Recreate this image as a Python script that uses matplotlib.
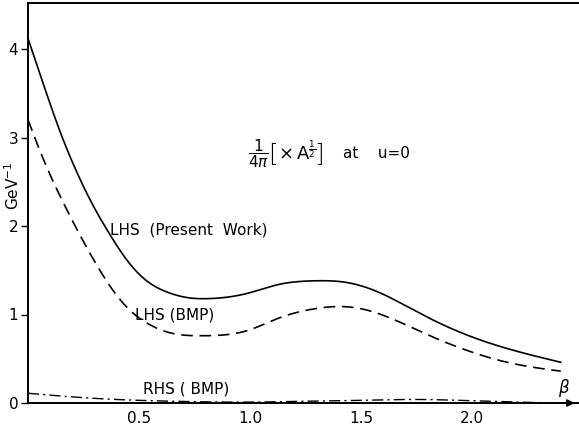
import matplotlib
matplotlib.use("Agg")
import matplotlib.pyplot as plt
import numpy as np

# values (beta, GeV^-1)
beta_present = [0.0, 0.075, 0.15, 0.225, 0.30, 0.36, 0.45, 0.54, 0.63, 0.72, 0.82, 0.99, 1.13,
                1.28, 1.44, 1.59, 1.73, 1.89, 2.04, 2.18, 2.40]
lhs_present = [4.12, 3.56, 3.03, 2.58, 2.20, 1.94, 1.60, 1.37, 1.25, 1.19, 1.18, 1.24, 1.34,
               1.38, 1.36, 1.24, 1.06, 0.86, 0.71, 0.60, 0.46]

beta_bmp = [0.0, 0.075, 0.15, 0.225, 0.30, 0.375, 0.45, 0.525, 0.645, 0.79, 0.99, 1.13, 1.28,
            1.41, 1.51, 1.66, 1.81, 1.96, 2.11, 2.26, 2.40]
lhs_bmp = [3.20, 2.72, 2.31, 1.94, 1.60, 1.30, 1.07, 0.92, 0.79, 0.76, 0.82, 0.96, 1.06,
           1.09, 1.06, 0.93, 0.76, 0.61, 0.49, 0.41, 0.36]

beta_rhs = [0.0, 0.25, 0.5, 0.75, 1.0, 1.25, 1.5, 1.75, 2.0, 2.2, 2.40]
rhs_bmp = [0.11, 0.06, 0.03, 0.015, 0.01, 0.02, 0.03, 0.04, 0.025, 0.01, 0.0]

xtick_vals = [0.5, 1.0, 1.5, 2.0]
xtick_labels = ["0.5", "1.0", "1.5", "2.0"]
ytick_vals = [0, 1, 2, 3, 4]


def spline(xs, ys, n=400):
    # natural cubic spline through the read points
    x = np.asarray(xs, float)
    y = np.asarray(ys, float)
    k = len(x)
    h = np.diff(x)
    A = np.zeros((k, k))
    b = np.zeros(k)
    A[0, 0] = A[-1, -1] = 1
    for i in range(1, k - 1):
        A[i, i - 1] = h[i - 1]
        A[i, i] = 2 * (h[i - 1] + h[i])
        A[i, i + 1] = h[i]
        b[i] = 3 * ((y[i + 1] - y[i]) / h[i] - (y[i] - y[i - 1]) / h[i - 1])
    c = np.linalg.solve(A, b)
    xn = np.linspace(x[0], x[-1], n)
    j = np.clip(np.searchsorted(x, xn, side="right") - 1, 0, k - 2)
    bb = (y[1:] - y[:-1]) / h - h * (2 * c[:-1] + c[1:]) / 3
    d = (c[1:] - c[:-1]) / (3 * h)
    t = xn - x[j]
    return xn, y[j] + bb[j] * t + c[j] * t**2 + d[j] * t**3


plt.rcParams['font.family'] = ['DejaVu Sans']
plt.rcParams['mathtext.fontset'] = 'dejavusans'
fig = plt.figure(figsize=(5.79, 4.25), dpi=100)
ax = fig.add_axes([28 / 579, 22 / 425, 1 - 28 / 579, 400 / 425])

x1, y1 = spline(beta_present, lhs_present)
x2, y2 = spline(beta_bmp, lhs_bmp)
x3, y3 = spline(beta_rhs, rhs_bmp)
ax.plot(x1, y1, color="black", lw=1.2)
ax.plot(x2, y2, color="black", lw=1.2, dashes=(7, 4))
ax.plot(x3, y3, color="black", lw=1.0, dashes=(8, 3, 1.5, 3))

ax.set_xlim(0, 551 / 222)
ax.set_ylim(0, 400 / 88.5)

ax.spines['right'].set_visible(False)
for s in ['left', 'bottom', 'top']:
    ax.spines[s].set_linewidth(1.4)

ax.set_xticks(xtick_vals)
ax.set_xticklabels(xtick_labels, fontsize=11)
ax.set_yticks(ytick_vals)
ax.set_yticklabels([str(v) for v in ytick_vals], fontsize=11)
ax.tick_params(axis='x', length=0, pad=6)
ax.tick_params(axis='y', length=5, width=1, direction='out', pad=2)

# arrow on the beta axis
ax.annotate("", xy=(2.475, 0), xytext=(2.38, 0),
            arrowprops=dict(arrowstyle="-|>", color="black", lw=1.4, mutation_scale=10),
            annotation_clip=False)
ax.text(2.415, 0.04, r"$\beta$", fontsize=12, ha="center", va="bottom")

ax.text(-0.07, 2.45, r"GeV$^{-1}$", rotation=90, fontsize=11, ha="center", va="center",
        clip_on=False)

ax.text(0.37, 1.95, "LHS  (Present  Work)", fontsize=11, va="center")
ax.text(0.48, 1.0, "LHS (BMP)", fontsize=11, va="center")
ax.text(0.52, 0.16, "RHS ( BMP)", fontsize=11, va="center")

# formula: 1/(4 pi) [ x A^1/2 ]  at  u=0
ax.text(0.99, 2.82, r"$\dfrac{1}{4\pi}$", fontsize=11, va="center")
ax.text(1.08, 2.80, "[", fontsize=18, va="center", fontweight="light")
ax.text(1.125, 2.84, r"$\times\,\mathrm{A}^{\frac{1}{2}}$", fontsize=13, va="center")
ax.text(1.29, 2.80, "]", fontsize=18, va="center", fontweight="light")
ax.text(1.42, 2.82, "at    u=0", fontsize=11, va="center")

fig.savefig("out.png", dpi=100)
